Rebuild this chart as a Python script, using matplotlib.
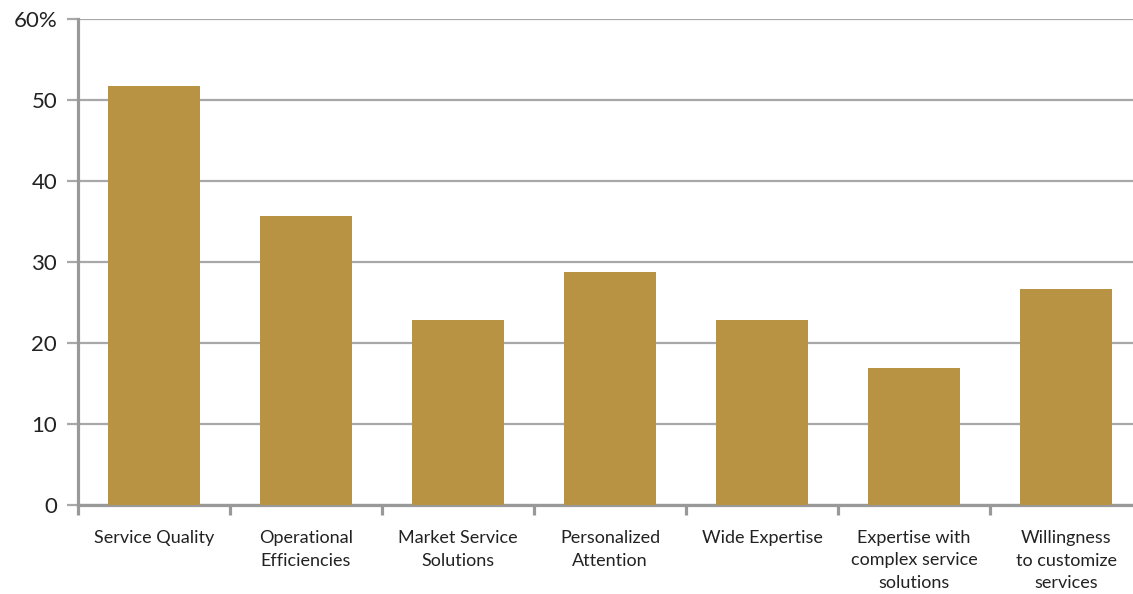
import numpy as np
import matplotlib.pyplot as plt

categories = ['Service Quality', 'Operational\nEfficiencies', 'Market Service\nSolutions',
              'Personalized\nAttention', 'Wide Expertise',
              'Expertise with\ncomplex service\nsolutions', 'Willingness\nto customize\nservices']
values = [51.7, 35.7, 22.8, 28.8, 22.8, 16.9, 26.7]
yticks = [0, 10, 20, 30, 40, 50, 60]
ytick_labels = ['0', '10', '20', '30', '40', '50', '60%']

bar_color = '#b89344'
grid_color = '#a8a8a8'
axis_color = '#999999'
text_color = '#222222'

plt.rcParams['font.family'] = ['Lato', 'DejaVu Sans']

fig = plt.figure(figsize=(11.33, 5.94), dpi=100)
W, H = 1133, 594
ax = fig.add_axes([78 / W, (594 - 505) / H, (1142 - 78) / W, (505 - 19) / H])

x = np.arange(len(categories))
ax.bar(x, values, width=0.605, color=bar_color, zorder=3)

ax.set_xlim(-0.5, len(categories) - 0.5)
ax.set_ylim(0, 60)
ax.set_yticks(yticks)
ax.set_yticklabels(ytick_labels)
ax.yaxis.grid(True, color=grid_color, linewidth=1.6, zorder=0)
ax.set_axisbelow(True)

ax.set_xticks(x)
ax.set_xticklabels(categories, linespacing=1.5)
ax.set_xticks(np.arange(len(categories)) - 0.5, minor=True)

for s in ['top', 'right']:
    ax.spines[s].set_visible(False)
for s in ['left', 'bottom']:
    ax.spines[s].set_color(axis_color)
    ax.spines[s].set_linewidth(2.3)

ax.tick_params(axis='x', which='major', length=0, pad=18, labelsize=13, labelcolor=text_color)
ax.tick_params(axis='x', which='minor', length=7, width=2.3, color=axis_color, direction='out')
ax.tick_params(axis='y', length=8, width=1.6, color=grid_color, pad=7,
               labelsize=16, labelcolor=text_color)

fig.savefig('out.png', dpi=100)
